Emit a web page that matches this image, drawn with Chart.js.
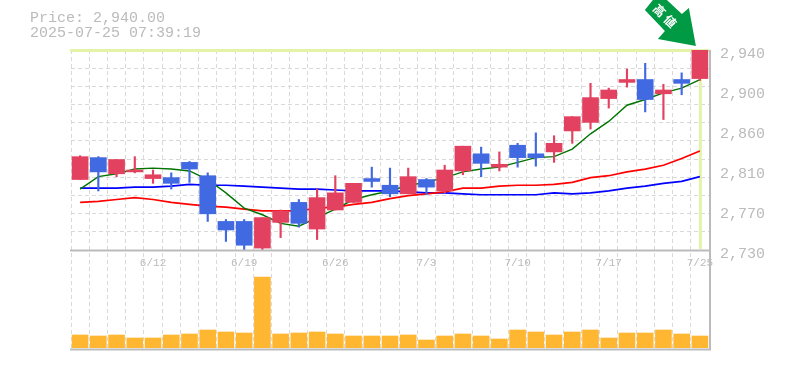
<!DOCTYPE html>
<html>
<head>
<meta charset="utf-8">
<script src="https://cdn.jsdelivr.net/npm/chart.js@4"></script>
<style>
  body { margin: 0; background: #fff; overflow: hidden; }
  #wrap { position: relative; width: 785px; height: 370px; }
  #info { position: absolute; left: 30px; top: 11px; font: 15px/15px "Liberation Mono", monospace; color: #bbb; white-space: pre; }
</style>
</head>
<body>
<div id="wrap">
  <canvas id="chart_price" width="785" height="370"></canvas>
  <div id="info">Price: 2,940.00
2025-07-25 07:39:19</div>
</div>
<script>
const categories = ['6/6','6/9','6/10','6/11','6/12','6/13','6/16','6/17','6/18','6/19','6/20','6/23','6/24','6/25','6/26','6/27','6/30','7/1','7/2','7/3','7/4','7/7','7/8','7/9','7/10','7/11','7/14','7/15','7/16','7/17','7/18','7/22','7/23','7/24','7/25'];
const opens =  [2804,2827,2810,2812,2805,2806,2822,2808,2760,2760,2732,2759,2780,2752,2772,2780,2805,2798,2789,2804,2792,2813,2831,2817,2840,2831,2833,2855,2864,2889,2906,2909,2894,2909,2910];
const closes = [2828,2812,2825,2814,2809,2800,2815,2768,2751,2735,2764,2771,2758,2785,2790,2800,2802,2789,2807,2796,2814,2839,2821,2820,2827,2827,2842,2870,2890,2898,2909,2888,2898,2905,2940];
const highs =  [2829,2828,2825,2828,2814,2811,2823,2811,2762,2762,2764,2772,2783,2794,2808,2800,2817,2816,2816,2805,2819,2839,2838,2833,2842,2853,2850,2870,2905,2900,2920,2926,2904,2916,2940];
const lows =   [2804,2792,2807,2811,2800,2794,2801,2760,2739,2730,2730,2743,2754,2741,2772,2780,2796,2786,2789,2788,2790,2809,2807,2813,2817,2818,2822,2842,2857,2879,2901,2875,2867,2893,2908];
const ma5 =  [2794,2807,2810,2815,2816,2815,2813,2804,2790,2774,2767,2758,2755,2764,2773,2783,2788,2792,2798,2801,2806,2812,2815,2817,2822,2827,2828,2836,2852,2865,2882,2888,2895,2900,2909];
const ma25 = [2780,2781,2783,2785,2783,2780,2778,2776,2775,2773,2771,2771,2771,2774,2775,2778,2780,2784,2787,2789,2791,2795,2795,2797,2798,2798,2799,2801,2806,2808,2812,2815,2819,2826,2834];
const ma75 = [2795,2795,2795,2796,2796,2797,2799,2798,2798,2797,2796,2795,2794,2794,2793,2792,2792,2792,2791,2790,2790,2789,2788,2788,2788,2788,2790,2789,2790,2792,2795,2797,2800,2802,2807];
const volumes = [1300,1200,1300,1000,1000,1300,1400,1800,1600,1500,7100,1400,1500,1600,1400,1200,1200,1200,1300,800,1200,1400,1200,900,1800,1600,1300,1600,1800,1000,1500,1500,1800,1400,1200];

const dateLabels = ['6/12','6/19','6/26','7/3','7/10','7/17','7/25'];
const priceTicks = [2730,2772,2814,2856,2898,2940];
const priceLabels = ['2,730','2,770','2,810','2,860','2,900','2,940'];
const gridStep = 210 / 11; // the dotted rows do not line up with the labels
const lastPrice = 2940;

const RED = '#e2425f';
const BLUE = '#4169e1';
const GRAY = '#bbbbbb';
const GRID = '#d9d9d9';
const LIME = '#e3f4a8';
const candleColors = opens.map((o, i) => (closes[i] >= o ? RED : BLUE));
const monoFont = { family: '"Liberation Mono", monospace', size: 15 };

// frame lines, the last price cross and the arrow
const framePlugin = {
  id: 'frame',
  beforeDatasetsDraw(chart) {
    const { ctx, chartArea, scales } = chart;
    const top = scales.y.getPixelForValue(lastPrice);
    const lastX = scales.x.getPixelForValue(categories.length - 1);
    ctx.save();
    ctx.strokeStyle = LIME;
    ctx.lineWidth = 3;
    ctx.beginPath();
    ctx.moveTo(chartArea.left - 1, top + 0.5);
    ctx.lineTo(chartArea.right, top + 0.5);
    ctx.moveTo(lastX + 0.5, top);
    ctx.lineTo(lastX + 0.5, scales.y.bottom - 1);
    ctx.stroke();
    ctx.restore();
  },
  afterDraw(chart) {
    const { ctx, chartArea, scales } = chart;
    const mid = scales.y.bottom;
    ctx.save();
    ctx.strokeStyle = GRAY;
    ctx.lineWidth = 2;
    ctx.beginPath();
    ctx.moveTo(chartArea.left - 1, chartArea.bottom + 1.5);
    ctx.lineTo(chartArea.right + 2, chartArea.bottom + 1.5);
    ctx.moveTo(chartArea.right + 1, chartArea.top);
    ctx.lineTo(chartArea.right + 1, chartArea.bottom + 2);
    ctx.moveTo(chartArea.left - 1, mid + 0.5);
    ctx.lineTo(chartArea.right, mid + 0.5);
    ctx.stroke();

    // arrow shape, relative to the tip over the last candle
    const tipX = scales.x.getPixelForValue(categories.length - 1) - 4;
    const tipY = scales.y.getPixelForValue(lastPrice) - 4;
    const shape = [[-51,-36],[-43,-46],[-29,-46],[-14,-32],[-7,-38],[0,0],[-38,-7],[-31,-15]];
    ctx.fillStyle = '#009944';
    ctx.beginPath();
    shape.forEach((p, i) => (i ? ctx.lineTo(tipX + p[0], tipY + p[1]) : ctx.moveTo(tipX + p[0], tipY + p[1])));
    ctx.closePath();
    ctx.fill();
    ctx.translate(tipX - 30, tipY - 29);
    ctx.rotate(Math.PI / 4);
    ctx.fillStyle = '#ffffff';
    ctx.font = 'bold 12px "Noto Sans CJK JP"';
    ctx.letterSpacing = '3px';
    ctx.textAlign = 'center';
    ctx.textBaseline = 'middle';
    ctx.fillText('高値', 0, 0);
    ctx.restore();
  },
};

new Chart(document.getElementById('chart_price'), {
  type: 'bar',
  data: {
    labels: categories,
    datasets: [
      { type: 'line', data: ma75, borderColor: '#0000ff', borderWidth: 1.7, pointRadius: 0, tension: 0, order: 5 },
      { type: 'line', data: ma25, borderColor: '#ff0000', borderWidth: 1.7, pointRadius: 0, tension: 0, order: 4 },
      { type: 'line', data: ma5, borderColor: '#007400', borderWidth: 1.4, pointRadius: 0, tension: 0, order: 3 },
      { data: lows.map((l, i) => [l, highs[i]]), backgroundColor: candleColors, barThickness: 1.5, grouped: false, order: 2 },
      { data: opens.map((o, i) => [o, closes[i]]), backgroundColor: candleColors, barThickness: 16, grouped: false, order: 1 },
      { data: volumes, yAxisID: 'yVol', backgroundColor: '#ffb732', barThickness: 16, grouped: false, order: 1 },
    ],
  },
  options: {
    responsive: false,
    animation: false,
    layout: { padding: { top: 50, left: 71, bottom: 22 } },
    plugins: { legend: { display: false }, tooltip: { enabled: false } },
    scales: {
      x: {
        position: { y: 2730 },
        offset: true,
        grid: { offset: true, color: GRID, tickLength: 0, drawTicks: false },
        border: { display: false, dash: [4, 3] },
        ticks: {
          color: GRAY,
          font: { family: monoFont.family, size: 11 },
          padding: 6,
          autoSkip: false,
          maxRotation: 0,
          callback(value) {
            const text = this.getLabelForValue(value);
            return dateLabels.includes(text) ? text : '';
          },
        },
      },
      y: {
        position: 'right',
        stack: 'panels',
        stackWeight: 200,
        min: 2730,
        max: 2940,
        afterBuildTicks(axis) {
          const rows = [];
          for (let i = 0; i <= 11; i++) rows.push(2730 + i * gridStep);
          axis.ticks = rows.concat(priceTicks.slice(1, -1)).map((value) => ({ value }));
        },
        afterFit(axis) { axis.width = 76; },
        grid: {
          color: (c) => (priceTicks.slice(1, -1).includes(c.tick && c.tick.value) ? 'transparent' : GRID),
          drawTicks: false,
        },
        border: { display: false, dash: [4, 3] },
        ticks: {
          color: GRAY,
          font: monoFont,
          padding: 11,
          labelOffset: 4,
          autoSkip: false,
          callback(value) {
            const at = priceTicks.findIndex((t) => Math.abs(t - value) < 0.01);
            return at >= 0 ? priceLabels[at] : '';
          },
        },
      },
      yVol: {
        position: 'right',
        stack: 'panels',
        stackWeight: 98,
        min: 0,
        max: 9800,
        afterFit(axis) { axis.width = 76; },
        grid: { display: false },
        border: { display: false },
        ticks: { display: false },
      },
    },
  },
  plugins: [framePlugin],
});
</script>
</body>
</html>
